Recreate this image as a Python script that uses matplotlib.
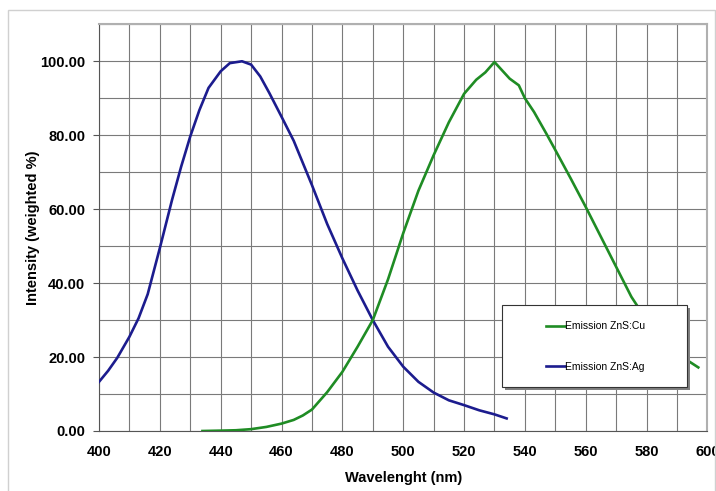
import numpy as np
import matplotlib
matplotlib.use("Agg")
import matplotlib.pyplot as plt
from matplotlib.patches import Rectangle

plt.rcParams['font.family'] = ['Liberation Sans', 'DejaVu Sans']

# emission ZnS:Ag (blue)
ag_nm = [400, 403, 406, 410, 413, 416, 420, 424, 427, 430, 433, 436, 440, 443, 447,
         450, 453, 456, 460, 464, 467, 470, 475, 480, 485, 490, 495, 500, 505, 510,
         515, 520, 525, 530, 534]
ag_int = [13.3, 16.3, 19.8, 25.5, 30.5, 37.0, 49.5, 62.5, 71.5, 79.7, 86.8, 92.8, 97.3, 99.5, 100.0,
          99.1, 95.9, 91.4, 85.0, 78.5, 72.5, 66.5, 56.0, 46.7, 38.0, 30.0, 22.8, 17.4, 13.3, 10.4,
          8.3, 7.0, 5.6, 4.5, 3.4]

# emission ZnS:Cu (green)
cu_nm = [434, 440, 445, 450, 455, 460, 464, 467, 470, 475, 480, 485, 490, 495, 500,
         505, 510, 515, 520, 524, 527, 530, 532, 535, 538, 540, 543, 547, 550, 555,
         560, 565, 570, 575, 580, 585, 590, 594, 597]
cu_int = [0.0, 0.1, 0.2, 0.5, 1.1, 2.0, 3.0, 4.2, 5.8, 10.5, 16.0, 22.8, 30.0, 41.0, 53.5,
          65.0, 74.6, 83.5, 91.2, 95.0, 97.0, 99.8, 98.0, 95.3, 93.5, 90.0, 86.3, 80.5, 76.0, 68.4,
          60.6, 52.5, 44.4, 36.3, 30.0, 25.5, 21.5, 18.8, 17.2]

fig = plt.figure(figsize=(7.16, 4.91), dpi=100)
ax = fig.add_axes([0.1383, 0.1222, 0.8497, 0.8283])

# faint outer frame of the original picture
fig.add_artist(Rectangle((8 / 716, -0.01), 707 / 716, 1 - 10 / 491 + 0.01,
                         transform=fig.transFigure, fill=False,
                         edgecolor='#d0d0d0', linewidth=1.0))

ax.plot(ag_nm, ag_int, color='#1c1c8e', linewidth=1.9, label='Emission ZnS:Ag',
        solid_joinstyle='round', zorder=3)
ax.plot(cu_nm, cu_int, color='#1f8c24', linewidth=1.9, label='Emission ZnS:Cu',
        solid_joinstyle='round', zorder=3)

ax.set_xlim(400, 600)
ax.set_ylim(0, 110)
ax.set_xticks(np.arange(400, 601, 20))
ax.set_xticks(np.arange(400, 601, 10), minor=True)
ax.set_yticks(np.arange(0, 101, 20))
ax.set_yticks(np.arange(0, 111, 10), minor=True)
ax.set_yticklabels(['%.2f' % v for v in np.arange(0, 101, 20)])
ax.grid(which='both', color='#7a7a7a', linewidth=0.8)
ax.set_axisbelow(True)

ax.tick_params(which='both', labelsize=10.5, length=0)
ax.tick_params(axis='x', which='major', pad=10)
ax.tick_params(axis='y', which='major', length=4, color='#555555', pad=6)
for lab in ax.get_xticklabels() + ax.get_yticklabels():
    lab.set_fontweight('bold')

for side in ['top', 'right']:
    ax.spines[side].set_color('#b0b0b0')
    ax.spines[side].set_linewidth(1.5)
ax.spines['left'].set_color('#555555')
ax.spines['bottom'].set_color('#555555')

ax.set_xlabel('Wavelenght (nm)', fontsize=10.5, fontweight='bold', labelpad=9)
ax.set_ylabel('Intensity (weighted %)', fontsize=10.5, fontweight='bold', labelpad=0)

# legend box with shadow
x0, y0 = (501.7 - 99) / 608, (431 - 386.7) / 406.7
w, h = (687 - 501.7) / 608, (386.7 - 305) / 406.7
ax.add_patch(Rectangle((x0 + 0.005, y0 - 0.008), w, h, transform=ax.transAxes,
                       facecolor='#808080', edgecolor='none', zorder=5, clip_on=False))
ax.add_patch(Rectangle((x0, y0), w, h, transform=ax.transAxes,
                       facecolor='white', edgecolor='#333333', linewidth=0.8, zorder=6,
                       clip_on=False))

handles, labels = ax.get_legend_handles_labels()
leg = ax.legend(handles[::-1], labels[::-1], loc='center',
                bbox_to_anchor=(0.816, 0.208), frameon=False, fontsize=7.5,
                handlelength=1.9, handletextpad=0.0, labelspacing=2.9)
leg.set_zorder(7)

fig.savefig('out.png', dpi=100)
